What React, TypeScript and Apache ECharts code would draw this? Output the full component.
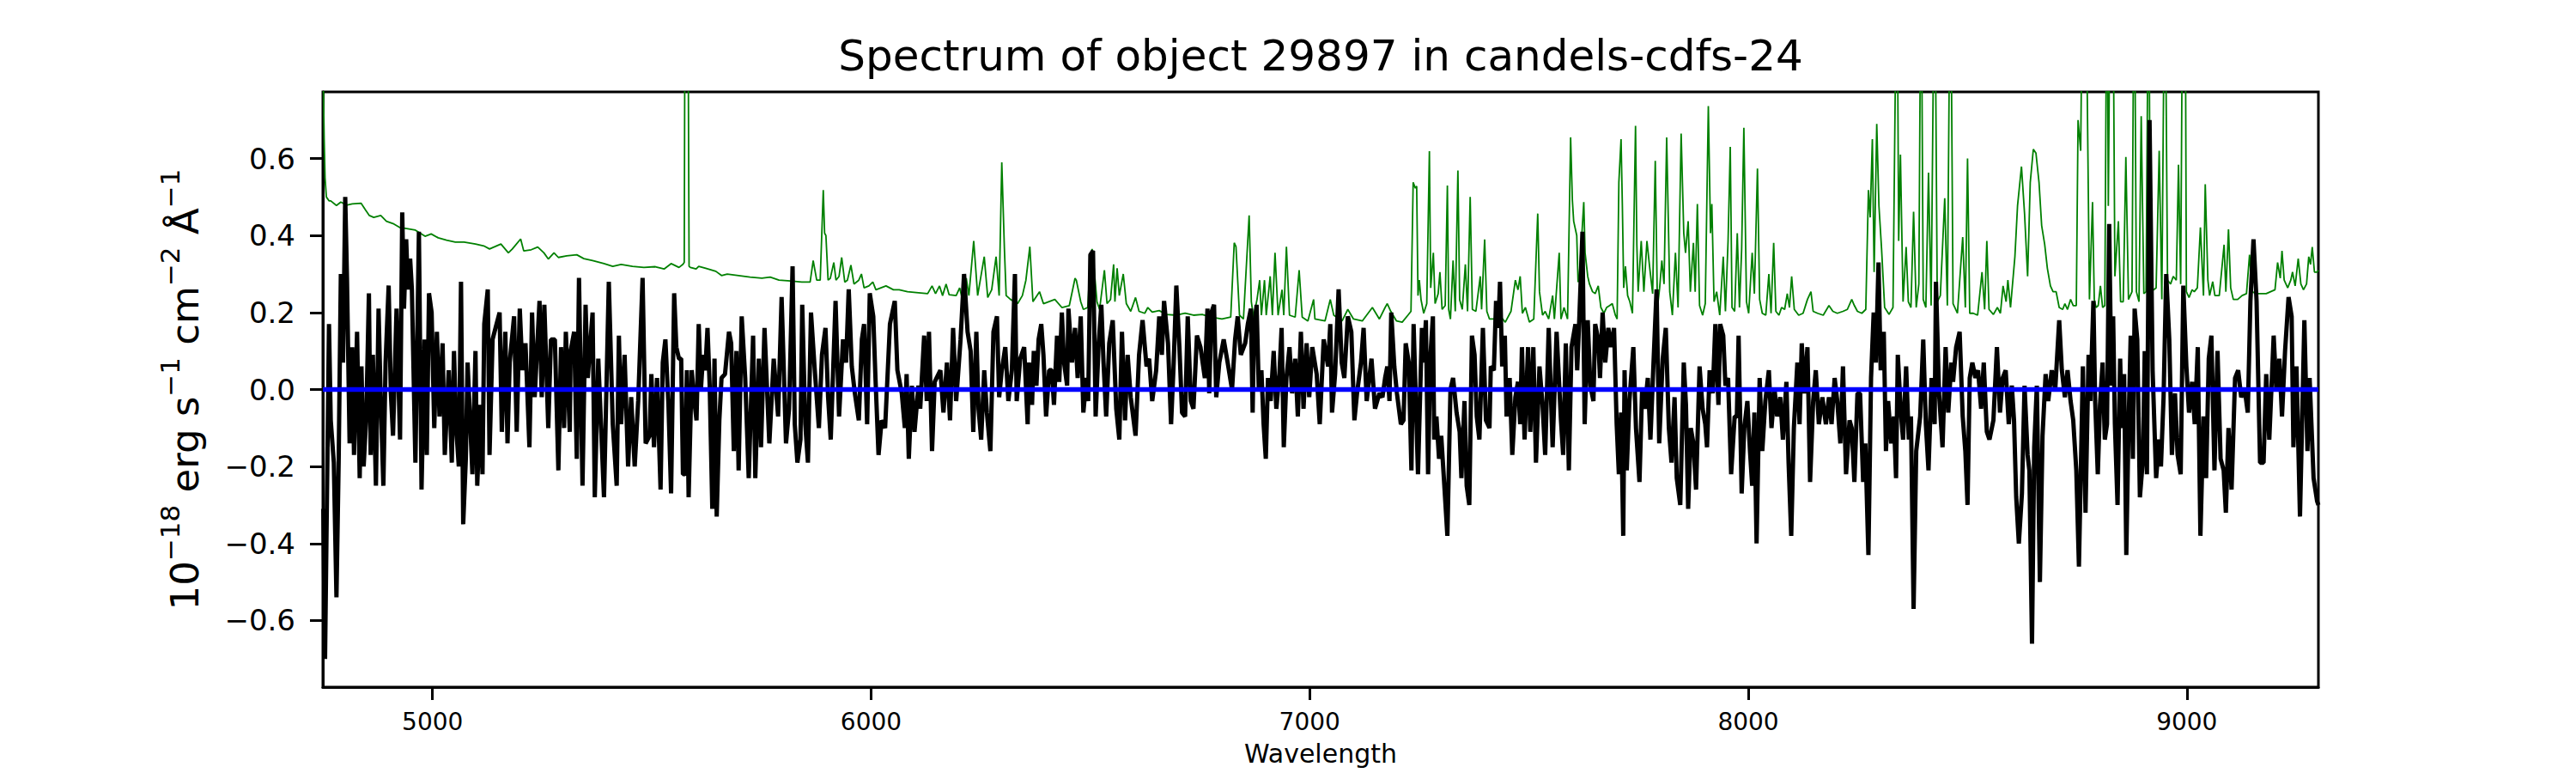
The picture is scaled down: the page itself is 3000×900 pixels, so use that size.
import React, { useEffect, useRef } from "react";
import * as echarts from "echarts";

const TITLE = "Spectrum of object 29897 in candels-cdfs-24";
const X_NAME = "Wavelength";
const X_TICKS = [5000, 6000, 7000, 8000, 9000];
const Y_TICKS = [-0.6, -0.4, -0.2, 0, 0.2, 0.4, 0.6];
const X_RANGE = [4750, 9300];
const Y_RANGE = [-0.773, 0.773];
const ZERO_LINE = [[4750, 0], [9300, 0]];

// object flux (black) as [wavelength, flux]
const FLUX = [
[4751,-0.31],[4755,-0.70],[4764,0.17],[4768,-0.08],[4775,-0.19],[4781,-0.54],[4786,-0.19],[4791,0.30],[4796,0.07],[4801,0.50],[4805,0.29],[4811,-0.14],[4817,0.11],[4821,-0.17],[4828,0.15],[4834,-0.23],[4838,0.06],[4843,-0.20],[4849,-0.07],[4855,0.25],[4859,-0.17],[4864,0.09],[4871,-0.25],[4877,0.21],[4882,-0.03],[4888,-0.25],[4893,0.07],[4900,0.27],[4905,-0.01],[4910,-0.12],[4918,0.21],[4926,-0.13],[4931,0.46],[4935,0.21],[4940,0.39],[4944,0.26],[4949,0.34],[4953,0.26],[4961,-0.19],[4969,0.41],[4975,-0.26],[4982,0.13],[4987,-0.17],[4992,0.25],[4998,0.20],[5004,-0.10],[5010,0.15],[5016,-0.07],[5023,0.12],[5028,-0.17],[5037,0.05],[5044,-0.19],[5049,0.10],[5054,-0.10],[5060,-0.20],[5065,0.28],[5070,-0.35],[5076,-0.18],[5080,0.07],[5091,-0.22],[5098,0.10],[5102,-0.25],[5109,-0.04],[5114,-0.22],[5118,0.17],[5126,0.26],[5130,-0.17],[5137,0.13],[5146,0.17],[5153,0.20],[5158,-0.11],[5166,0.15],[5171,-0.14],[5176,0.07],[5186,0.19],[5192,-0.11],[5199,0.21],[5205,0.05],[5212,0.12],[5221,-0.15],[5227,0.20],[5233,-0.02],[5244,0.23],[5249,-0.02],[5255,0.22],[5264,-0.10],[5270,0.13],[5279,0.13],[5287,-0.21],[5293,0.11],[5300,-0.10],[5304,0.15],[5313,-0.11],[5315,0.10],[5323,0.15],[5329,-0.18],[5334,0.29],[5342,-0.25],[5349,0.22],[5354,0.03],[5365,0.20],[5370,-0.28],[5378,0.08],[5391,-0.28],[5402,0.28],[5411,-0.09],[5420,-0.25],[5425,0.14],[5430,-0.09],[5438,0.09],[5446,-0.20],[5453,-0.02],[5461,-0.20],[5469,-0.03],[5479,0.29],[5486,-0.14],[5495,-0.12],[5499,0.04],[5505,-0.15],[5512,0.03],[5520,-0.26],[5525,0.07],[5531,0.13],[5538,-0.04],[5544,-0.27],[5551,0.25],
[5556,0.11],[5562,0.08],[5567,0.08],[5571,-0.22],[5576,-0.22],[5580,0.05],[5584,-0.28],[5591,0.05],[5597,-0.03],[5602,-0.08],[5607,0.17],[5612,0.0],[5617,0.09],[5622,0.05],[5627,0.16],[5632,0.01],[5638,-0.31],[5643,0.08],[5648,-0.33],[5654,-0.08],[5659,0.03],[5667,0.04],[5676,0.15],[5681,0.12],[5687,-0.16],[5693,0.10],[5698,-0.21],[5705,0.19],[5713,0.03],[5721,-0.23],[5731,0.14],[5736,-0.23],[5744,0.08],[5749,-0.15],[5757,0.16],[5768,-0.14],[5778,0.08],[5788,-0.07],[5796,0.24],[5806,-0.14],[5813,-0.05],[5821,0.32],[5826,-0.09],[5832,-0.19],[5839,-0.13],[5843,0.22],[5850,-0.09],[5856,-0.19],[5863,0.20],[5871,0.06],[5881,-0.10],[5888,0.09],[5896,0.16],[5902,-0.02],[5908,-0.13],[5919,0.23],[5927,-0.07],[5936,0.13],[5943,0.07],[5949,0.26],[5956,0.06],[5963,-0.01],[5972,-0.08],[5979,0.13],[5984,0.17],[5991,-0.09],[5997,0.25],[6005,0.19],[6010,0.03],[6017,-0.17],[6024,-0.08],[6032,-0.10],[6043,0.17],[6054,0.23],[6060,0.05],[6070,-0.01],[6077,-0.10],[6081,0.04],[6086,-0.18],[6093,0.01],[6099,-0.11],[6108,0.01],[6112,-0.05],[6121,0.14],[6127,-0.03],[6132,0.15],[6139,-0.16],[6145,0.02],[6158,0.05],[6165,-0.06],[6173,0.07],[6180,-0.08],[6187,0.16],[6194,-0.03],[6204,0.13],[6212,0.30],[6220,0.15],[6227,0.10],[6233,-0.11],[6240,0.15],[6245,-0.05],[6251,-0.13],[6258,0.05],[6264,-0.06],[6272,-0.16],[6279,0.15],[6287,0.19],[6292,-0.02],[6298,0.05],[6306,0.11],[6313,-0.03],[6321,0.05],[6328,0.30],[6332,-0.03],[6340,0.08],[6349,0.11],[6357,-0.09],
[6360,0.07],[6367,-0.04],[6371,0.10],[6377,0.01],[6382,0.13],[6388,0.17],[6393,0.09],[6399,-0.07],[6406,0.05],[6412,0.05],[6417,-0.04],[6424,0.14],[6429,0.02],[6435,0.20],[6440,0.07],[6447,0.01],[6450,0.21],[6458,0.07],[6465,0.16],[6471,0.03],[6478,0.19],[6484,-0.06],[6491,0.03],[6495,-0.03],[6500,0.35],[6506,0.36],[6512,-0.07],[6519,0.12],[6525,0.22],[6530,0.07],[6536,-0.07],[6543,0.12],[6551,0.18],[6559,-0.05],[6566,-0.13],[6572,0.15],[6579,-0.08],[6585,0.09],[6592,-0.02],[6603,-0.12],[6611,0.09],[6619,0.18],[6628,0.06],[6634,0.08],[6641,-0.03],[6650,0.05],[6657,0.19],[6663,0.09],[6668,0.23],[6677,0.12],[6684,-0.09],[6690,0.07],[6696,0.27],[6703,0.11],[6709,-0.06],[6716,-0.07],[6722,0.19],[6729,-0.03],[6735,-0.05],[6743,0.14],[6751,0.11],[6761,0.03],[6767,0.21],[6771,-0.01],[6776,0.20],[6782,0.22],[6787,-0.02],[6794,0.07],[6804,0.13],[6813,0.07],[6823,0.0],[6830,0.13],[6836,0.19],[6843,0.09],[6853,0.12],[6859,0.17],[6866,0.21],[6870,-0.06],[6873,0.15],[6879,0.22],[6884,0.0],[6890,0.05],[6895,-0.09],[6900,-0.18],[6905,0.03],[6911,-0.03],[6918,0.10],[6924,-0.05],[6931,0.04],[6936,0.16],[6941,-0.15],[6947,0.03],[6954,0.11],[6960,-0.01],[6967,0.08],[6973,-0.07],[6980,0.15],[6986,-0.05],[6993,0.12],[6999,-0.02],[7006,0.11],[7016,0.04],[7023,-0.09],[7032,0.13],[7042,0.06],[7047,0.17],[7051,-0.06],[7058,0.04],[7066,0.26],[7073,0.07],[7079,0.03],[7087,0.19],[7095,0.15],[7102,-0.08],[7108,-0.01],[7117,0.07],[7123,0.16],[7130,-0.03],[7141,0.08],[7149,-0.05],[7159,-0.01],
[7166,-0.02],[7172,0.03],[7177,0.06],[7182,-0.03],[7186,0.20],[7193,0.06],[7199,-0.01],[7208,-0.09],[7214,-0.08],[7219,0.12],[7226,0.07],[7232,-0.21],[7237,0.17],[7247,-0.22],[7256,0.16],[7260,0.07],[7265,0.18],[7270,-0.22],[7275,0.08],[7281,0.19],[7284,-0.13],[7289,-0.07],[7295,-0.18],[7300,-0.12],[7306,-0.23],[7314,-0.38],[7321,0.0],[7327,0.03],[7335,-0.06],[7342,-0.11],[7346,-0.23],[7353,-0.03],[7358,-0.25],[7364,-0.30],[7370,0.14],[7376,0.09],[7381,-0.07],[7387,-0.13],[7395,0.16],[7402,-0.08],[7410,-0.10],[7413,0.06],[7420,0.05],[7425,0.23],[7430,0.16],[7434,0.28],[7439,0.06],[7445,0.14],[7449,-0.07],[7456,0.03],[7462,-0.17],[7469,-0.02],[7475,0.02],[7480,-0.09],[7484,0.11],[7490,-0.13],[7498,0.11],[7503,-0.11],[7510,0.11],[7516,-0.19],[7524,0.06],[7531,-0.04],[7537,-0.17],[7545,0.16],[7554,-0.15],[7563,0.15],[7573,-0.08],[7578,-0.17],[7584,0.12],[7591,-0.21],[7597,0.11],[7606,0.17],[7610,0.05],[7615,0.19],[7622,0.41],[7627,-0.09],[7634,0.18],[7640,0.01],[7647,-0.03],[7651,0.17],[7658,0.13],[7662,0.03],[7668,0.20],[7674,0.07],[7681,0.16],[7687,0.11],[7694,0.16],[7700,-0.09],[7705,-0.22],[7710,-0.06],[7715,-0.38],[7718,0.05],[7723,-0.21],[7729,-0.03],[7738,0.11],[7744,-0.10],[7752,-0.24],[7758,0.0],[7764,-0.05],[7771,0.03],[7777,-0.13],[7784,0.07],[7791,0.26],[7797,-0.14],[7805,0.08],[7812,0.16],[7819,-0.10],[7825,-0.19],[7832,-0.02],[7837,-0.23],[7845,-0.30],[7853,0.07],[7858,-0.04],[7863,-0.31],[7869,-0.10],[7875,-0.14],[7881,-0.26],[7889,0.06],[7896,-0.05],[7902,-0.09],[7906,-0.15],[7912,0.05],[7919,-0.01],[7925,0.17],[7932,-0.04],[7936,0.17],[7943,0.14],[7948,0.01],[7954,0.03],[7961,-0.22],
[7969,-0.07],[7974,-0.07],[7978,0.14],[7985,-0.27],[7991,-0.10],[7998,-0.03],[8004,-0.16],[8009,-0.25],[8014,-0.06],[8019,-0.40],[8026,0.03],[8032,-0.16],[8039,-0.03],[8047,0.05],[8053,-0.10],[8060,0.0],[8066,-0.07],[8073,-0.02],[8079,-0.13],[8087,0.02],[8092,-0.19],[8098,-0.38],[8104,-0.10],[8112,0.07],[8117,-0.09],[8122,0.12],[8128,-0.01],[8135,0.11],[8141,-0.24],[8148,-0.03],[8154,0.05],[8161,-0.09],[8169,-0.02],[8177,-0.09],[8184,-0.02],[8190,-0.09],[8197,0.03],[8203,-0.03],[8210,-0.14],[8216,0.06],[8223,-0.22],[8231,-0.08],[8236,-0.10],[8242,-0.24],[8249,-0.01],[8255,-0.01],[8262,-0.24],[8267,-0.14],[8274,-0.43],[8280,0.03],[8286,0.20],[8291,0.07],[8297,0.33],[8302,0.05],[8309,0.15],[8314,-0.16],[8319,-0.03],[8326,-0.14],[8332,-0.07],[8337,-0.23],[8341,0.09],[8348,-0.06],[8353,-0.13],[8360,0.06],[8366,-0.13],[8371,-0.07],[8377,-0.57],[8383,-0.16],[8392,-0.07],[8399,0.13],[8405,-0.09],[8411,-0.21],[8418,0.03],[8425,-0.09],[8428,0.28],[8435,-0.01],[8443,-0.15],[8450,0.11],[8456,-0.06],[8463,0.07],[8467,0.02],[8474,0.11],[8482,0.15],[8489,-0.07],[8495,-0.16],[8500,-0.30],[8505,0.03],[8511,0.07],[8518,0.03],[8524,0.05],[8531,-0.05],[8537,0.07],[8544,-0.11],[8550,-0.13],[8559,-0.08],[8567,0.11],[8574,-0.06],[8580,0.03],[8587,0.05],[8594,-0.09],[8601,0.01],[8606,-0.08],[8611,-0.28],[8617,-0.40],[8624,-0.27],[8630,0.01],[8637,-0.17],[8641,-0.21],[8647,-0.66],[8652,-0.15],[8658,0.01],[8665,-0.50],[8671,-0.12],[8678,0.04],[8684,-0.03],[8692,0.05],[8700,0.0],[8709,0.18],[8715,0.05],[8722,-0.02],[8728,0.05],[8735,-0.03],[8741,-0.08],[8748,-0.21],[8754,-0.46],[8763,0.06],
[8769,-0.32],[8776,0.09],[8780,-0.03],[8787,0.23],[8791,-0.03],[8797,-0.22],[8802,-0.04],[8808,0.07],[8813,-0.13],[8818,-0.09],[8823,0.43],[8828,0.01],[8832,0.19],[8836,-0.09],[8842,-0.30],[8848,0.08],[8852,-0.10],[8857,0.04],[8862,-0.43],[8867,-0.10],[8872,0.14],[8877,-0.18],[8881,0.21],[8887,0.13],[8893,-0.28],[8900,-0.18],[8904,0.10],[8909,-0.22],[8915,0.70],[8922,0.05],[8930,-0.23],[8937,-0.13],[8941,-0.20],[8947,-0.02],[8953,0.30],[8960,0.13],[8966,-0.17],[8973,-0.01],[8979,-0.17],[8986,-0.22],[8992,0.27],[8999,0.06],[9005,-0.06],[9012,0.02],[9018,-0.09],[9025,0.11],[9031,-0.38],[9038,-0.07],[9044,-0.23],[9050,0.08],[9056,0.14],[9063,-0.21],[9070,0.10],[9077,-0.18],[9084,-0.21],[9089,-0.32],[9095,-0.10],[9102,-0.26],[9110,0.03],[9117,0.05],[9124,-0.02],[9132,0.0],[9139,-0.06],[9145,0.23],[9152,0.39],[9159,0.23],[9167,-0.19],[9175,-0.19],[9181,0.04],[9188,-0.13],[9198,0.14],[9204,0.0],[9211,0.08],[9217,-0.07],[9224,0.10],[9232,0.24],[9239,0.19],[9243,-0.15],[9250,0.06],[9258,-0.33],[9268,0.18],[9275,-0.16],[9280,0.03],[9289,-0.23],[9297,-0.29],[9300,-0.30]
];

// noise / sky spectrum (green) as [wavelength, flux]
const NOISE = [
[4750,0.95],[4751,0.80],[4753,0.65],[4755,0.55],[4758,0.50],[4764,0.49],[4768,0.49],[4781,0.478],[4791,0.487],[4804,0.479],[4817,0.482],[4837,0.484],[4847,0.467],[4856,0.452],[4866,0.447],[4882,0.452],[4895,0.437],[4910,0.431],[4925,0.421],[4941,0.418],[4961,0.414],[4983,0.398],[4997,0.404],[5013,0.394],[5032,0.388],[5052,0.383],[5072,0.383],[5098,0.378],[5117,0.373],[5130,0.365],[5156,0.378],[5173,0.355],[5182,0.365],[5201,0.391],[5208,0.360],[5225,0.363],[5240,0.370],[5254,0.355],[5264,0.339],[5277,0.355],[5287,0.343],[5306,0.347],[5329,0.350],[5345,0.340],[5365,0.335],[5391,0.327],[5411,0.32],[5430,0.325],[5456,0.32],[5482,0.317],[5508,0.319],[5528,0.313],[5544,0.327],
[5562,0.317],[5571,0.325],[5574,0.33],[5576,1.2],[5582,1.2],[5585,0.32],[5588,0.317],[5601,0.313],[5607,0.32],[5623,0.315],[5646,0.307],[5659,0.296],[5672,0.30],[5698,0.296],[5724,0.292],[5751,0.289],[5770,0.292],[5790,0.284],[5816,0.282],[5842,0.279],[5861,0.279],[5868,0.335],[5876,0.284],[5884,0.284],[5891,0.518],[5894,0.406],[5897,0.40],[5902,0.284],[5907,0.289],[5915,0.33],[5920,0.284],[5927,0.294],[5933,0.343],[5940,0.279],[5946,0.284],[5954,0.323],[5961,0.274],[5972,0.284],[5978,0.30],[5984,0.264],[5995,0.269],[6004,0.279],[6011,0.259],[6034,0.269],[6051,0.259],[6064,0.259],[6083,0.254],[6103,0.252],[6129,0.249],[6139,0.269],[6147,0.249],[6156,0.269],[6163,0.244],[6171,0.274],[6178,0.246],[6194,0.244],[6202,0.264],[6207,0.239],[6217,0.289],[6223,0.244],[6234,0.386],[6243,0.244],[6258,0.345],[6266,0.239],[6275,0.259],[6285,0.345],[6292,0.244],[6298,0.59],[6304,0.365],[6308,0.244],[6318,0.234],[6334,0.223],[6345,0.244],[6353,0.284],[6362,0.371],
[6369,0.228],[6384,0.254],[6393,0.223],[6419,0.234],[6435,0.213],[6452,0.218],[6465,0.289],[6468,0.284],[6478,0.228],[6484,0.208],[6494,0.213],[6500,0.34],[6504,0.365],[6507,0.335],[6515,0.228],[6521,0.208],[6532,0.31],[6538,0.223],[6546,0.234],[6553,0.325],[6556,0.228],[6561,0.315],[6566,0.244],[6575,0.30],[6582,0.223],[6592,0.203],[6603,0.239],[6611,0.203],[6624,0.198],[6631,0.213],[6641,0.201],[6657,0.205],[6673,0.195],[6696,0.193],[6716,0.198],[6735,0.193],[6755,0.195],[6774,0.188],[6800,0.183],[6820,0.188],[6828,0.381],[6832,0.371],[6840,0.193],[6849,0.183],[6862,0.452],[6867,0.228],[6872,0.188],[6880,0.234],[6886,0.284],[6890,0.193],[6897,0.284],[6901,0.193],[6910,0.294],[6915,0.193],[6921,0.355],[6928,0.193],[6937,0.259],[6941,0.193],[6947,0.371],[6954,0.193],[6967,0.188],[6976,0.31],[6983,0.188],[6996,0.178],[7009,0.234],[7012,0.183],[7035,0.178],[7047,0.234],[7055,0.193],[7074,0.178],[7087,0.208],[7100,0.183],[7120,0.178],[7143,0.213],
[7159,0.183],[7172,0.213],[7177,0.223],[7185,0.203],[7198,0.178],[7211,0.175],[7224,0.193],[7231,0.203],[7236,0.538],[7241,0.523],[7244,0.528],[7247,0.244],[7250,0.284],[7254,0.233],[7260,0.198],[7267,0.223],[7273,0.619],[7276,0.264],[7282,0.355],[7286,0.223],[7293,0.249],[7297,0.305],[7302,0.208],[7309,0.218],[7314,0.53],[7317,0.208],[7321,0.183],[7327,0.335],[7332,0.203],[7338,0.569],[7342,0.233],[7348,0.208],[7355,0.325],[7360,0.203],[7366,0.50],[7371,0.208],[7379,0.203],[7389,0.294],[7392,0.208],[7399,0.39],[7404,0.203],[7410,0.183],[7420,0.183],[7433,0.193],[7446,0.175],[7459,0.203],[7469,0.284],[7475,0.259],[7480,0.294],[7485,0.198],[7492,0.213],[7501,0.175],[7511,0.183],[7520,0.457],[7524,0.254],[7531,0.193],[7537,0.203],[7545,0.183],[7554,0.244],[7558,0.183],[7569,0.355],[7573,0.183],[7580,0.213],[7588,0.183],[7595,0.655],[7599,0.492],[7602,0.437],[7609,0.40],[7612,0.279],[7615,0.294],[7625,0.487],[7628,0.355],[7634,0.294],[7638,0.274],[7645,0.254],[7651,0.249],[7658,0.269],[7664,0.213],[7671,0.198],[7677,0.213],[7684,0.218],[7690,0.223],[7697,0.193],[7701,0.183],[7705,0.538],[7710,0.65],[7713,0.477],[7716,0.264],[7720,0.32],[7725,0.244],[7730,0.228],[7736,0.198],[7743,0.685],[7746,0.376],[7749,0.254],[7756,0.386],[7762,0.254],[7769,0.386],[7775,0.32],[7782,0.249],[7788,0.594],[7793,0.213],[7798,0.264],[7803,0.335],[7808,0.274],[7814,0.655],[7821,0.254],[7827,0.193],[7834,0.355],[7840,0.213],[7847,0.665],[7853,0.406],[7857,0.355],[7863,0.437],[7868,0.254],[7875,0.381],[7879,0.254],[7884,0.482],[7889,0.218],[7896,0.193],[7902,0.223],[7909,0.736],[7914,0.406],[7917,0.482],[7922,0.228],[7928,0.254],[7935,0.193],[7943,0.345],[7948,0.203],
[7954,0.386],[7959,0.63],[7963,0.213],[7969,0.203],[7975,0.406],[7980,0.213],[7985,0.365],[7990,0.68],[7996,0.228],[8001,0.198],[8009,0.355],[8014,0.249],[8021,0.574],[8026,0.234],[8032,0.198],[8040,0.193],[8047,0.30],[8052,0.198],[8058,0.381],[8063,0.203],[8070,0.193],[8076,0.213],[8083,0.208],[8089,0.249],[8094,0.213],[8099,0.294],[8105,0.208],[8115,0.193],[8125,0.198],[8135,0.234],[8143,0.254],[8148,0.203],[8158,0.198],[8171,0.193],[8184,0.218],[8193,0.203],[8203,0.198],[8216,0.203],[8226,0.208],[8236,0.234],[8242,0.218],[8249,0.203],[8259,0.198],[8268,0.208],[8274,0.518],[8278,0.447],[8283,0.65],[8287,0.305],[8293,0.69],[8298,0.477],[8304,0.365],[8311,0.213],[8321,0.195],[8330,0.213],[8339,1.2],[8343,0.386],[8347,0.61],[8353,0.228],[8360,0.37],[8365,0.228],[8371,0.213],[8377,0.462],[8383,0.213],[8389,0.274],[8394,1.2],[8399,0.234],[8405,0.213],[8411,0.563],[8417,0.218],[8425,1.2],[8431,0.228],[8438,0.244],[8448,0.497],[8454,0.218],[8461,1.2],[8467,0.223],[8477,0.198],[8489,0.396],[8495,0.213],[8500,0.60],[8505,0.198],[8513,0.198],[8523,0.193],[8533,0.305],[8539,0.208],[8544,0.386],[8549,0.208],[8559,0.195],[8568,0.213],[8575,0.198],[8581,0.269],[8588,0.228],[8592,0.284],[8598,0.213],[8608,0.345],[8614,0.477],[8623,0.579],[8630,0.457],[8637,0.294],[8643,0.538],[8650,0.624],[8656,0.614],[8663,0.538],[8669,0.426],[8676,0.376],[8682,0.315],[8689,0.269],[8695,0.254],[8702,0.254],[8709,0.213],[8717,0.208],[8722,0.223],[8728,0.208],[8735,0.234],[8741,0.218],[8748,0.218],[8752,0.70],[8758,0.62],[8763,1.2],[8769,1.2],[8774,0.66],[8778,0.234],
[8785,0.487],[8789,0.234],[8793,0.213],[8798,0.218],[8803,0.269],[8808,0.213],[8813,0.218],[8818,1.2],[8821,0.477],[8826,1.2],[8831,1.2],[8836,0.294],[8844,0.437],[8849,0.228],[8855,0.228],[8861,0.604],[8867,0.234],[8875,0.254],[8880,1.2],[8885,0.254],[8891,0.228],[8896,0.71],[8902,0.249],[8907,0.254],[8913,1.2],[8917,0.254],[8924,0.259],[8930,0.264],[8937,0.62],[8943,0.234],[8950,1.2],[8956,0.284],[8963,0.274],[8969,0.294],[8976,0.284],[8981,0.584],[8986,0.274],[8991,1.2],[8996,1.2],[8999,0.254],[9005,0.239],[9012,0.259],[9017,0.254],[9024,0.264],[9031,0.421],[9038,0.244],[9042,0.533],[9048,0.284],[9052,0.244],[9059,0.28],[9064,0.244],[9074,0.244],[9085,0.376],[9089,0.254],[9095,0.416],[9100,0.264],[9106,0.234],[9116,0.234],[9126,0.244],[9136,0.249],[9143,0.35],[9149,0.254],[9158,0.249],[9168,0.249],[9181,0.249],[9191,0.254],[9201,0.259],[9207,0.33],[9213,0.289],[9217,0.36],[9222,0.284],[9230,0.264],[9237,0.284],[9241,0.305],[9247,0.269],[9254,0.34],[9260,0.274],[9266,0.259],[9273,0.274],[9278,0.345],[9282,0.325],[9286,0.37],[9291,0.305],[9297,0.305],[9300,0.31]
];

const FONT = "DejaVu Sans";

function fmtY(v: number): string {
  const s = Math.abs(v).toFixed(1);
  return v < -1e-9 ? "\u2212" + s : s;
}

export default function App() {
  const ref = useRef<HTMLDivElement>(null);
  useEffect(() => {
    if (!ref.current) return;
    const chart = echarts.init(ref.current, null, { renderer: "svg" });
    const yName =
      "{m|10}{s|\u221218}{m| erg s}{s|\u22121}{m| cm}{s|\u22122}{m| \u00c5}{s|\u22121}";
    chart.setOption({
      animation: false,
      backgroundColor: "#ffffff",
      graphic: [
        {
          type: "text",
          x: 1538,
          y: 65,
          style: {
            text: TITLE,
            fill: "#000",
            font: `50px "${FONT}"`,
            textAlign: "center",
            textVerticalAlign: "middle",
            align: "center",
            verticalAlign: "middle",
          },
        },
      ],
      grid: {
        left: 376,
        right: 300,
        top: 107,
        bottom: 100,
        show: true,
        borderColor: "#000",
        borderWidth: 3,
        backgroundColor: "transparent",
        containLabel: false,
      },
      xAxis: {
        type: "value",
        min: X_RANGE[0],
        max: X_RANGE[1],
        axisLine: { show: true, onZero: false, lineStyle: { color: "#000", width: 3 } },
        axisTick: { show: true, length: 15, lineStyle: { color: "#000", width: 3 }, customValues: X_TICKS },
        axisLabel: {
          customValues: X_TICKS,
          fontFamily: FONT,
          fontSize: 28,
          color: "#000",
          margin: 26,
          formatter: (v: number) => String(v),
        },
        splitLine: { show: false },
        name: X_NAME,
        nameLocation: "middle",
        nameGap: 62,
        nameTextStyle: { fontFamily: FONT, fontSize: 30, color: "#000" },
      },
      yAxis: {
        type: "value",
        min: Y_RANGE[0],
        max: Y_RANGE[1],
        axisLine: { show: true, onZero: false, lineStyle: { color: "#000", width: 3 } },
        axisTick: { show: true, length: 15, lineStyle: { color: "#000", width: 3 }, customValues: Y_TICKS },
        axisLabel: {
          customValues: Y_TICKS,
          fontFamily: FONT,
          fontSize: 34,
          color: "#000",
          margin: 32,
          formatter: (v: number) => fmtY(v),
        },
        splitLine: { show: false },
        name: yName,
        nameLocation: "middle",
        nameGap: 138,
        nameTextStyle: {
          fontFamily: FONT,
          color: "#000",
          rich: {
            m: { fontFamily: FONT, fontSize: 45, color: "#000", lineHeight: 56, verticalAlign: "bottom" },
            s: { fontFamily: FONT, fontSize: 31, color: "#000", lineHeight: 36, verticalAlign: "top" },
          },
        },
      },
      series: [
        {
          type: "line",
          data: NOISE,
          showSymbol: false,
          symbol: "none",
          clip: true,
          lineStyle: { color: "#008000", width: 1.8 },
          z: 2,
        },
        {
          type: "line",
          data: FLUX,
          showSymbol: false,
          symbol: "none",
          clip: true,
          lineStyle: { color: "#000000", width: 5 },
          z: 3,
        },
        {
          type: "line",
          data: ZERO_LINE,
          showSymbol: false,
          symbol: "none",
          clip: true,
          lineStyle: { color: "#0000ff", width: 5.5 },
          z: 4,
        },
      ],
    });
    return () => chart.dispose();
  }, []);
  return (
    <div
      ref={ref}
      style={{ position: "fixed", left: 0, top: 0, width: 3000, height: 900, background: "#fff" }}
    />
  );
}
